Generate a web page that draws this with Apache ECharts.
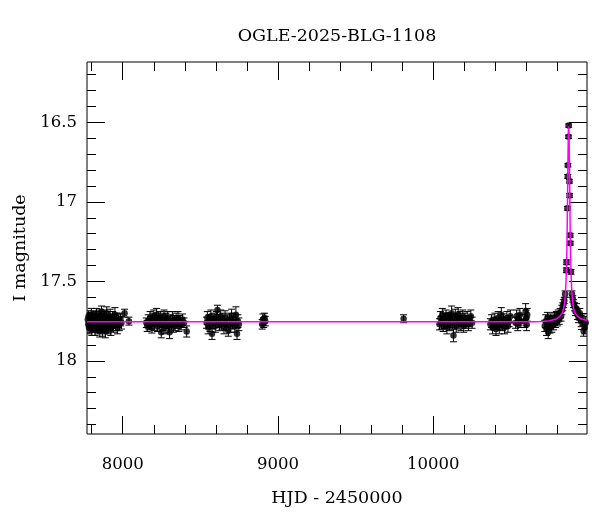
<!DOCTYPE html>
<html>
<head>
<meta charset="utf-8">
<script src="https://cdn.jsdelivr.net/npm/echarts@6/dist/echarts.min.js"></script>
<style>html,body{margin:0;padding:0;background:#fff}#c{width:600px;height:512px}</style>
</head>
<body>
<div id="c"></div>
<script>
// ---- data: [HJD-2450000, I mag, error] ----
const season2017 = [[7775,17.74,.04],[7778,17.77,.04],[7780,17.72,.035],[7783,17.79,.04],[7786,17.76,.04],[7789,17.73,.035],[7792,17.78,.04],[7795,17.75,.04],[7798,17.71,.04],[7801,17.80,.04],[7804,17.76,.04],[7807,17.74,.04],[7810,17.78,.04],[7813,17.72,.035],[7816,17.77,.04],[7819,17.75,.04],[7822,17.80,.04],[7825,17.73,.04],[7828,17.76,.045],[7831,17.71,.04],[7834,17.78,.04],[7837,17.75,.04],[7840,17.79,.04],[7843,17.74,.04],[7846,17.77,.04],[7849,17.72,.04],[7852,17.81,.04],[7855,17.75,.04],[7858,17.73,.04],[7861,17.78,.04],[7864,17.69,.035],[7867,17.76,.04],[7870,17.80,.045],[7873,17.74,.04],[7876,17.77,.04],[7879,17.72,.04],[7882,17.79,.04],[7885,17.75,.04],[7888,17.81,.045],[7891,17.73,.04],[7894,17.76,.04],[7897,17.70,.04],[7900,17.78,.04],[7903,17.75,.04],[7907,17.79,.04],[7911,17.73,.04],[7915,17.76,.04],[7919,17.72,.045],[7923,17.80,.04],[7927,17.75,.04],[7931,17.77,.04],[7935,17.73,.04],[7940,17.78,.04],[7945,17.75,.04],[7950,17.71,.045],[7955,17.77,.04],[7960,17.74,.04],[7966,17.79,.04],[7972,17.75,.04],[7978,17.77,.04],[7985,17.74,.04],[7992,17.76,.04],[8012,17.70,.025],[8040,17.75,.025]];
const season2018 = [[8152,17.76,.03],[8158,17.78,.035],[8164,17.75,.04],[8170,17.77,.035],[8176,17.73,.04],[8182,17.76,.04],[8188,17.79,.035],[8194,17.74,.04],[8200,17.72,.04],[8206,17.77,.04],[8212,17.75,.035],[8218,17.71,.04],[8224,17.78,.035],[8230,17.74,.04],[8236,17.76,.04],[8242,17.73,.04],[8248,17.82,.035],[8254,17.75,.04],[8260,17.77,.04],[8266,17.72,.04],[8272,17.79,.04],[8278,17.74,.04],[8284,17.76,.035],[8290,17.73,.04],[8296,17.78,.04],[8302,17.82,.04],[8308,17.75,.04],[8314,17.77,.035],[8320,17.73,.04],[8326,17.78,.04],[8332,17.75,.035],[8338,17.77,.04],[8344,17.74,.04],[8350,17.76,.035],[8356,17.73,.04],[8362,17.78,.035],[8368,17.75,.035],[8376,17.77,.035],[8385,17.74,.035],[8395,17.76,.03],[8412,17.815,.035]];
const season2019 = [[8540,17.76,.035],[8545,17.73,.04],[8550,17.79,.04],[8556,17.75,.04],[8562,17.77,.045],[8568,17.72,.04],[8575,17.83,.035],[8582,17.76,.04],[8589,17.74,.04],[8596,17.78,.04],[8603,17.73,.04],[8610,17.68,.03],[8617,17.75,.04],[8624,17.77,.04],[8631,17.72,.04],[8638,17.76,.04],[8645,17.74,.04],[8652,17.79,.04],[8659,17.73,.045],[8666,17.77,.04],[8673,17.75,.04],[8680,17.81,.035],[8687,17.74,.04],[8694,17.78,.04],[8701,17.72,.045],[8708,17.76,.04],[8715,17.74,.04],[8722,17.78,.04],[8729,17.71,.05],[8736,17.83,.035],[8742,17.75,.04],[8748,17.77,.04]];
const season2020 = [[8898,17.77,.03],[8903,17.74,.035],[8908,17.76,.03],[8913,17.73,.03],[8918,17.75,.03]];
const season2022 = [[9809,17.735,.025]];
const season2023 = [[10040,17.77,.035],[10046,17.73,.04],[10052,17.76,.04],[10058,17.71,.04],[10064,17.78,.035],[10070,17.74,.04],[10076,17.75,.045],[10082,17.72,.04],[10088,17.79,.04],[10094,17.75,.04],[10100,17.73,.035],[10106,17.77,.04],[10112,17.74,.04],[10118,17.70,.045],[10124,17.76,.04],[10130,17.84,.04],[10136,17.75,.04],[10142,17.72,.045],[10148,17.78,.04],[10154,17.74,.04],[10160,17.71,.045],[10166,17.76,.04],[10172,17.73,.04],[10178,17.77,.04],[10184,17.75,.035],[10190,17.72,.04],[10196,17.78,.04],[10203,17.74,.04],[10210,17.76,.035],[10218,17.73,.04],[10226,17.77,.04],[10234,17.75,.035],[10242,17.72,.04],[10250,17.76,.035]];
const season2024 = [[10368,17.77,.035],[10375,17.75,.04],[10382,17.79,.04],[10390,17.76,.035],[10397,17.74,.04],[10404,17.80,.04],[10411,17.77,.035],[10418,17.73,.04],[10425,17.79,.04],[10432,17.75,.04],[10438,17.71,.045],[10445,17.77,.04],[10452,17.74,.035],[10459,17.79,.04],[10466,17.76,.035],[10474,17.73,.04],[10481,17.78,.04],[10488,17.75,.035],[10496,17.72,.04],[10530,17.76,.035],[10537,17.72,.04],[10544,17.77,.04],[10551,17.74,.035],[10558,17.71,.04],[10564,17.75,.04],[10590,17.75,.04],[10595,17.69,.05],[10598,17.73,.05],[10601,17.77,.04],[10605,17.71,.04]];
const season2025 = [[10718,17.78,.035],[10724,17.75,.04],[10729,17.80,.04],[10735,17.73,.035],[10740,17.82,.04],[10746,17.76,.04],[10752,17.79,.035],[10757,17.74,.035],[10763,17.78,.04],[10769,17.75,.035],[10775,17.77,.035],[10781,17.73,.035],[10787,17.76,.03],[10793,17.72,.03],[10799,17.75,.03],[10805,17.71,.03],[10811,17.74,.03],[10817,17.70,.03],[10823,17.72,.03],[10828,17.68,.03],[10834,17.66,.025],[10839,17.64,.025],[10844,17.62,.02],[10849,17.58,.02],[10857,17.43,.015],[10858,17.38,.015],[10864,17.04,.012],[10866,16.84,.012],[10867,16.77,.01],[10871,16.59,.01],[10872,16.52,.01],[10877,16.87,.012],[10878,16.96,.012],[10882,17.21,.012],[10883,17.26,.012],[10887,17.44,.015],[10893,17.58,.02],[10898,17.61,.02],[10904,17.64,.025],[10910,17.66,.025],[10916,17.69,.025],[10922,17.67,.03],[10929,17.71,.03],[10936,17.73,.03],[10944,17.70,.03],[10952,17.75,.035],[10960,17.74,.035],[10968,17.81,.035],[10975,17.79,.04],[10982,17.76,.04]];

// ---- model light curve: [HJD-2450000, I mag] ----
const modelCurve = [[7770,17.754],[10650,17.754],[10700,17.752],[10750,17.748],[10790,17.737],[10815,17.72],[10830,17.70],[10840,17.67],[10846,17.63],[10850,17.59],[10854,17.52],[10857,17.44],[10860,17.32],[10862,17.20],[10864,17.03],[10866,16.86],[10868,16.69],[10870,16.56],[10871,16.525],[10872,16.517],[10873,16.525],[10874,16.56],[10876,16.69],[10878,16.86],[10880,17.03],[10882,17.20],[10884,17.32],[10887,17.44],[10890,17.52],[10894,17.59],[10898,17.63],[10904,17.67],[10914,17.70],[10929,17.72],[10954,17.737],[10990,17.746]];

// ---- axes ----
const xRange = [7770, 10990];
const yRange = [16.12, 18.46];
const xMajor = [8000, 9000, 10000];
const xMinor = [7800, 8200, 8400, 8600, 8800, 9200, 9400, 9600, 9800, 10200, 10400, 10600, 10800];
const yMajor = [16.5, 17, 17.5, 18];
const yMinor = [16.2, 16.3, 16.4, 16.6, 16.7, 16.8, 16.9, 17.1, 17.2, 17.3, 17.4, 17.6, 17.7, 17.8, 17.9, 18.1, 18.2, 18.3, 18.4];
const titleText = 'OGLE-2025-BLG-1108';
const xTitle = 'HJD - 2450000';
const yTitle = 'I magnitude';

const points = [].concat(season2017, season2018, season2019, season2020, season2022, season2023, season2024, season2025);

const FONT = 'DejaVu Serif';
const tickTxt = {color: '#000', fontFamily: FONT, fontSize: 16.5};
const nameTxt = {color: '#000', fontFamily: FONT, fontSize: 17.5};

function xAx(pos, ticks, len, labels, extra) {
  return Object.assign({
    type: 'value', min: xRange[0], max: xRange[1], position: pos,
    axisLine: {show: false},
    axisTick: {show: true, inside: true, length: len, customValues: ticks, lineStyle: {color: '#000', width: 1}},
    axisLabel: labels ? Object.assign({customValues: ticks, margin: 22, formatter: v => String(v)}, tickTxt) : {show: false},
    splitLine: {show: false}
  }, extra || {});
}
function yAx(pos, ticks, len, labels, extra) {
  return Object.assign({
    type: 'value', min: yRange[0], max: yRange[1], inverse: true, position: pos,
    axisLine: {show: false},
    axisTick: {show: true, inside: true, length: len, customValues: ticks, lineStyle: {color: '#000', width: 1}},
    axisLabel: labels ? Object.assign({customValues: ticks, margin: 10, formatter: v => String(v)}, tickTxt) : {show: false},
    splitLine: {show: false}
  }, extra || {});
}

const chart = echarts.init(document.getElementById('c'));
chart.setOption({
  animation: false,
  backgroundColor: '#fff',
  graphic: [{type: 'text', x: 337, y: 36, style: {text: titleText, fill: '#000', font: '17.5px "DejaVu Serif"', textAlign: 'center', textVerticalAlign: 'middle'}}],
  grid: {left: 87, right: 13, top: 62, bottom: 75, show: true, borderColor: '#000', borderWidth: 1, backgroundColor: 'transparent'},
  xAxis: [
    xAx('bottom', xMajor, 18, true, {name: xTitle, nameLocation: 'middle', nameGap: 55, nameTextStyle: nameTxt}),
    xAx('bottom', xMinor, 9, false),
    xAx('top', xMajor, 18, false),
    xAx('top', xMinor, 9, false)
  ],
  yAxis: [
    yAx('left', yMajor, 18, true, {name: yTitle, nameLocation: 'middle', nameGap: 58, nameRotate: 90, nameTextStyle: nameTxt}),
    yAx('left', yMinor, 9, false),
    yAx('right', yMajor, 18, false),
    yAx('right', yMinor, 9, false)
  ],
  series: [
    {
      type: 'custom', xAxisIndex: 0, yAxisIndex: 0, data: points, z: 2, clip: true,
      renderItem: function (params, api) {
        const x = api.value(0), m = api.value(1), e = api.value(2);
        const a = api.coord([x, m - e]);
        const b = api.coord([x, m + e]);
        const cw = 3.5;
        const st = {stroke: '#000', lineWidth: 1};
        return {type: 'group', children: [
          {type: 'line', shape: {x1: a[0], y1: a[1], x2: b[0], y2: b[1]}, style: st},
          {type: 'line', shape: {x1: a[0] - cw, y1: a[1], x2: a[0] + cw, y2: a[1]}, style: st},
          {type: 'line', shape: {x1: b[0] - cw, y1: b[1], x2: b[0] + cw, y2: b[1]}, style: st}
        ]};
      }
    },
    {
      type: 'scatter', xAxisIndex: 0, yAxisIndex: 0, z: 3,
      data: points.map(p => [p[0], p[1]]),
      symbol: 'circle', symbolSize: 6.5,
      itemStyle: {color: '#000'}
    },
    {
      type: 'line', xAxisIndex: 0, yAxisIndex: 0, z: 4,
      data: modelCurve, showSymbol: false, symbol: 'none',
      lineStyle: {color: '#ff00ff', width: 1.5}
    }
  ]
});
</script>
</body>
</html>
